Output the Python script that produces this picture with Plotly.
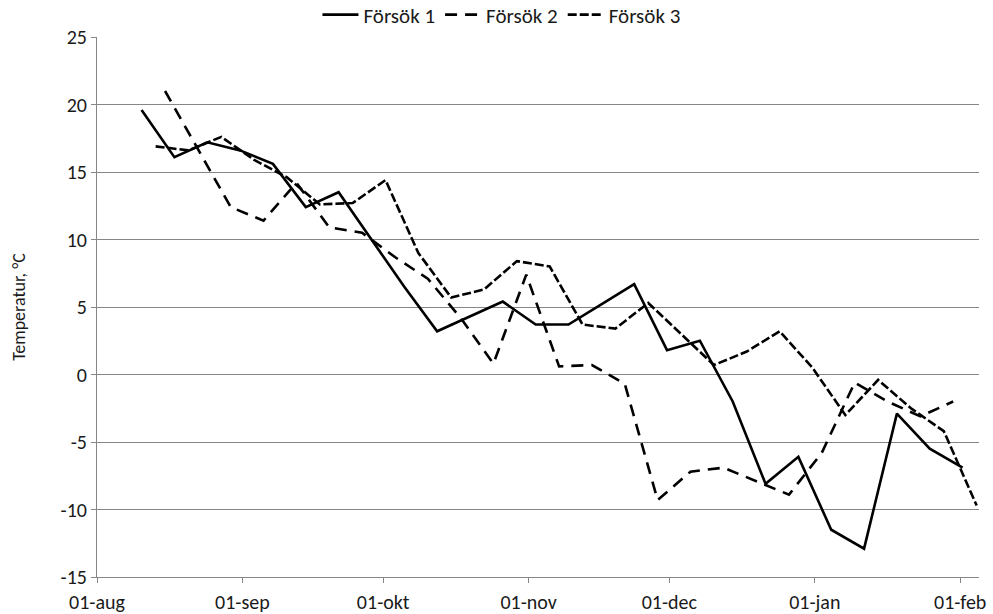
import plotly.graph_objects as go
import pandas as pd

# ---- data ----
series_names = ["Försök 1", "Försök 2", "Försök 3"]

dates_1 = ["2013-08-10", "2013-08-17", "2013-08-24", "2013-08-31", "2013-09-07", "2013-09-14",
           "2013-09-21", "2013-09-28", "2013-10-05", "2013-10-12", "2013-10-19", "2013-10-26",
           "2013-11-02", "2013-11-09", "2013-11-16", "2013-11-23", "2013-11-30", "2013-12-07",
           "2013-12-14", "2013-12-21", "2013-12-28", "2014-01-04", "2014-01-11", "2014-01-18",
           "2014-01-25", "2014-02-01"]
values_1 = [19.6, 16.1, 17.2, 16.6, 15.6, 12.4, 13.5, 10.0, 6.5, 3.2, 4.3, 5.4, 3.7, 3.7,
            5.2, 6.7, 1.8, 2.5, -2.0, -8.1, -6.1, -11.5, -12.9, -2.9, -5.5, -6.9]

dates_2 = ["2013-08-15", "2013-08-22", "2013-08-29", "2013-09-05", "2013-09-12", "2013-09-19",
           "2013-09-26", "2013-10-03", "2013-10-10", "2013-10-17", "2013-10-24", "2013-10-31",
           "2013-11-07", "2013-11-14", "2013-11-21", "2013-11-28", "2013-12-05", "2013-12-12",
           "2013-12-19", "2013-12-26", "2014-01-02", "2014-01-09", "2014-01-16", "2014-01-23",
           "2014-01-30"]
values_2 = [21.0, 16.7, 12.4, 11.4, 14.2, 10.9, 10.5, 8.7, 7.1, 4.2, 0.8, 7.4, 0.6, 0.7,
            -0.7, -9.3, -7.2, -6.9, -7.9, -8.9, -5.8, -0.6, -2.0, -3.1, -2.0]

dates_3 = ["2013-08-13", "2013-08-20", "2013-08-27", "2013-09-03", "2013-09-10", "2013-09-17",
           "2013-09-24", "2013-10-01", "2013-10-08", "2013-10-15", "2013-10-22", "2013-10-29",
           "2013-11-05", "2013-11-12", "2013-11-19", "2013-11-26", "2013-12-03", "2013-12-10",
           "2013-12-17", "2013-12-24", "2013-12-31", "2014-01-07", "2014-01-14", "2014-01-21",
           "2014-01-28", "2014-02-04"]
values_3 = [16.9, 16.6, 17.6, 15.9, 14.6, 12.6, 12.7, 14.4, 9.0, 5.7, 6.3, 8.4, 8.0, 3.7,
            3.4, 5.3, 3.0, 0.7, 1.7, 3.2, 0.5, -3.0, -0.4, -2.5, -4.2, -9.7]

x_tick_dates = ["2013-08-01", "2013-09-01", "2013-10-01", "2013-11-01", "2013-12-01",
                "2014-01-01", "2014-02-01"]
x_tick_labels = ["01-aug", "01-sep", "01-okt", "01-nov", "01-dec", "01-jan", "01-feb"]
y_tick_values = [-15, -10, -5, 0, 5, 10, 15, 20, 25]
y_tick_labels = ["-15", "-10", "-5", "0", "5", "10", "15", "20", "25"]
y_title = "Temperatur, °C"

# ---- figure ----
FONT = "Carlito, Calibri, Lato, sans-serif"
half_day = pd.Timedelta(hours=12)

styles = [
    dict(width=2.6, dash="solid"),
    dict(width=2.6, dash="12px,8px"),
    dict(width=2.6, dash="9px,3px"),
]
all_dates = [dates_1, dates_2, dates_3]
all_values = [values_1, values_2, values_3]

fig = go.Figure()
for name, d, v, st in zip(series_names, all_dates, all_values, styles):
    fig.add_trace(go.Scatter(
        x=pd.to_datetime(d) + half_day, y=v, name=name, mode="lines",
        line=dict(color="black", width=st["width"], dash=st["dash"]),
    ))

fig.update_layout(
    width=993, height=614,
    margin=dict(l=97, r=14, t=37, b=37, autoexpand=False),
    paper_bgcolor="white", plot_bgcolor="white",
    font=dict(family=FONT, size=20, color="#1a1a1a"),
    showlegend=True,
    legend=dict(orientation="h", xref="container", yref="container",
                x=0.505, xanchor="center", y=1 - 15 / 614, yanchor="middle",
                font=dict(size=21), tracegroupgap=0, itemwidth=36,
                bgcolor="rgba(0,0,0,0)"),
    xaxis=dict(
        type="date", range=["2013-08-01", "2014-02-05"],
        tickmode="array", tickvals=x_tick_dates, ticktext=x_tick_labels,
        showgrid=False, zeroline=False, automargin=False,
        showline=True, linecolor="#868686", linewidth=1,
        ticks="outside", ticklen=5, tickcolor="#868686",
        tickfont=dict(size=20), ticklabelstandoff=2,
    ),
    yaxis=dict(
        range=[-15, 25], tickmode="array", tickvals=y_tick_values, ticktext=y_tick_labels,
        showgrid=True, gridcolor="#868686", gridwidth=1, zeroline=False, automargin=False,
        showline=True, linecolor="#868686", linewidth=1,
        ticks="outside", ticklen=5, tickcolor="#868686",
        tickfont=dict(size=20),
        title=dict(text=y_title, font=dict(size=18), standoff=30),
    ),
)

fig.write_html("out.html", config={"displayModeBar": False},
               post_script="document.body.style.margin='0';document.body.style.padding='0';")
